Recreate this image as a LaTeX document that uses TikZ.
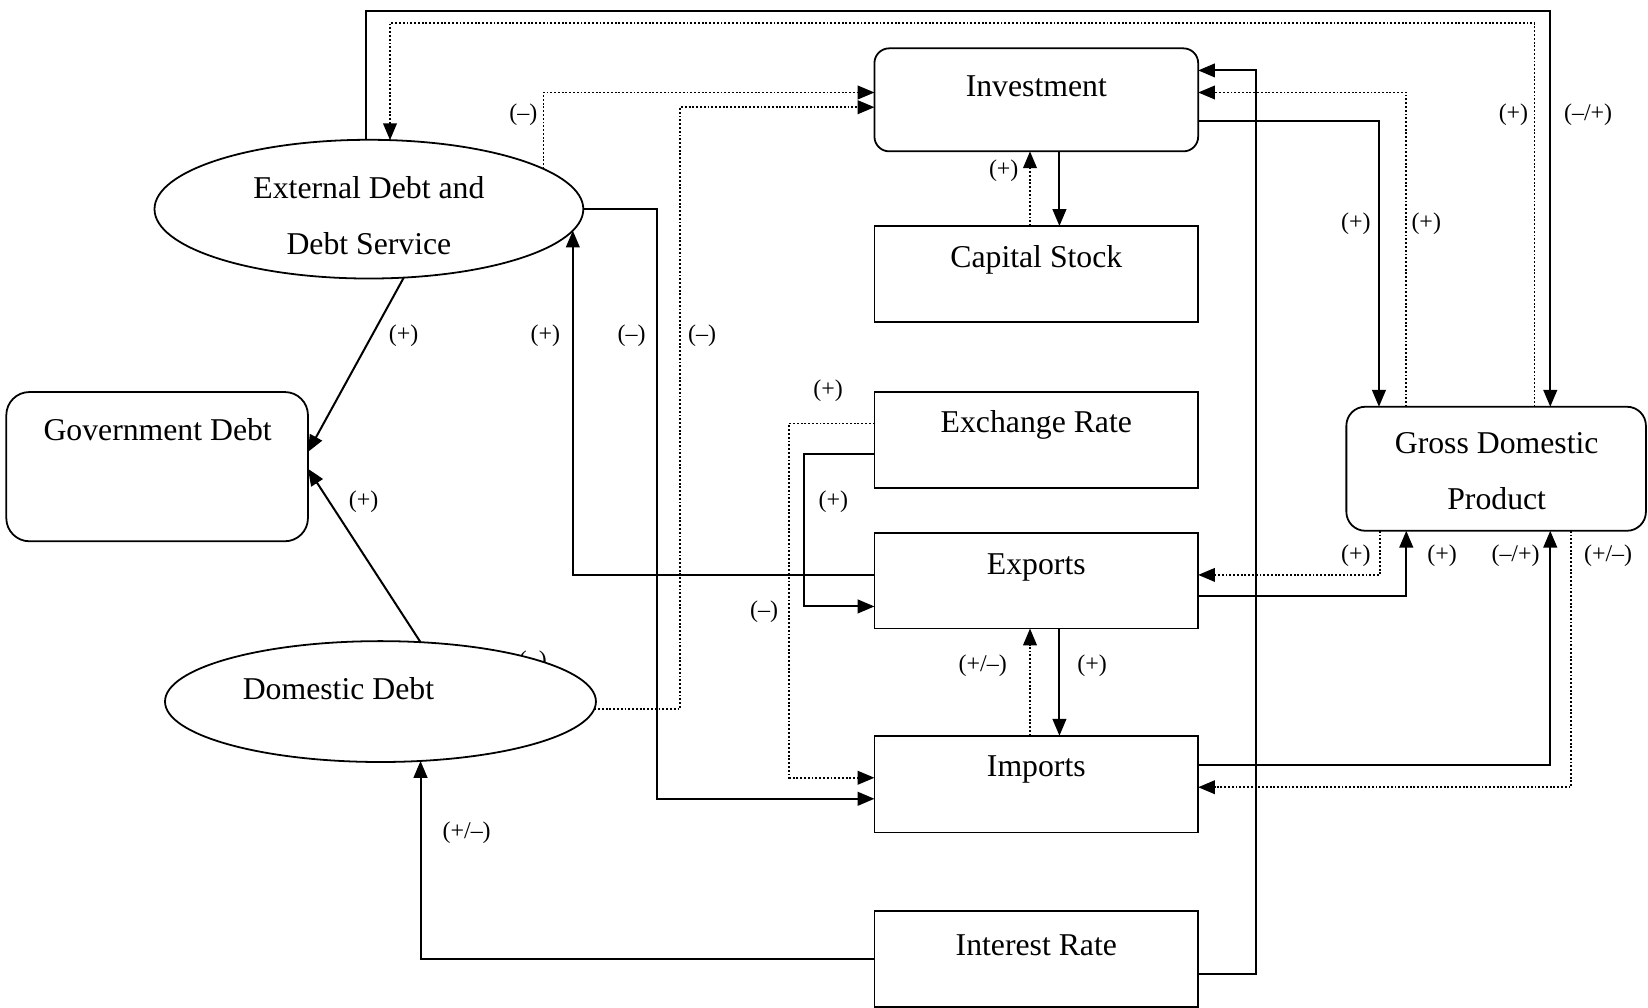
\documentclass[tikz,border=0pt]{standalone}
\usepackage{fontspec}
\setmainfont{Liberation Serif}
\usetikzlibrary{arrows.meta,shapes.geometric,calc}
\begin{document}
\begin{tikzpicture}[x=0.5pt,y=-0.5pt,
  boxn/.style={draw,line width=0.85pt,inner sep=0,outer sep=0,minimum width=154pt,minimum height=45.5pt},
  rbox/.style={boxn,rounded corners=7pt},
  ell/.style={draw,ellipse,line width=0.85pt,inner sep=0,outer sep=0,fill=white},
  txt/.style={font=\fontsize{15.1}{26.5}\selectfont,align=center,inner sep=0},
  lab/.style={font=\fontsize{11.4}{13}\selectfont,inner sep=0},
  sol/.style={line width=0.95pt},
  dotl/.style={line width=0.85pt,dash pattern=on 0.9pt off 0.9pt},
  tip/.style={-{Triangle[length=8pt,width=6.5pt]}},
]
\useasboundingbox (0,0) rectangle (1568,959);

% boxes
\node[rbox, minimum height=49pt] (inv) at (986,95) {};
\node[boxn] (cap) at (986,260.5) {};
\node[boxn] (exr) at (986,418.5) {};
\node[boxn] (exp) at (986,552.5) {};
\node[boxn, minimum height=46pt] (imp) at (986,746) {};
\node[boxn] (int) at (986,912.5) {};
\node[rbox, minimum width=142.5pt, minimum height=59pt, rounded corners=9pt] (gdp) at (1423.5,446) {};
\node[rbox, minimum width=143.5pt, minimum height=71pt, rounded corners=11pt] (gov) at (149.5,444) {};
\node[lab] (hid) at (507,630) {(–)};
\node[ell, minimum width=204pt, minimum height=66pt] (ext) at (351,199) {};
\node[ell, minimum width=205pt, minimum height=57.5pt] (dom) at (362,667.5) {};

% texts
\node[txt] (tinv) at (986,82) {Investment};
\node[txt] (tcap) at (986,247.5) {Capital Stock};
\node[txt] (texr) at (986,404.5) {Exchange Rate};
\node[txt] (texp) at (986,539.5) {Exports};
\node[txt] (timp) at (986,732.5) {Imports};
\node[txt] (tint) at (986,899) {Interest Rate};
\node[txt] (tgdp) at (1424,448) {Gross Domestic\\Product};
\node[txt] (tgov) at (150,409) {Government Debt};
\node[txt] (text) at (351,205) {External Debt and\\Debt Service};
\node[txt] (tdom) at (322,655) {Domestic Debt};

% connectors
\coordinate (c1) at (1475,10);
\draw[sol,tip] (ext.92.6) |- (c1) -- (gdp.north -| c1);
\coordinate (c2) at (1460,22);
\draw[dotl,tip] (gdp.north -| c2) -- (c2) -| (ext.73.1);
\coordinate (c3) at (517,88);
\draw[dotl,tip] (ext.13) |- (inv.west |- c3);
\coordinate (c4) at (647,102);
\draw[dotl,tip] (dom.-2.1) -| (c4) -- (inv.west |- c4);
\coordinate (c5) at (625,760);
\draw[sol,tip] (ext.east) -| (c5) -- (imp.west |- c5);
\coordinate (c6) at (544,547);
\draw[sol,tip] (exp.west |- c6) -| (ext.-6.3);
\draw[sol,tip] (ext.-63.9) -- ([yshift=7pt]gov.east);
\draw[sol,tip] (dom.56.1) -- ([yshift=-1pt]gov.east);
\draw[sol,tip] (int.west) -| (dom.-56.1);
\coordinate (c10) at (1195,927);
\coordinate (c10b) at (1195,67);
\draw[sol,tip] (int.east |- c10) -- (c10) -- (c10b) -- (inv.east |- c10b);
\coordinate (c11) at (1338,88);
\draw[dotl,tip] (gdp.north -| c11) -- (c11) -- (inv.east |- c11);
\coordinate (c12) at (1312,115);
\draw[sol,tip] (inv.east |- c12) -- (c12) -- (gdp.north -| c12);
\draw[sol,tip] ([xshift=11pt]inv.south) -- ([xshift=11pt]cap.north);
\draw[dotl,tip] ([xshift=-3pt]cap.north) -- ([xshift=-3pt]inv.south);
\coordinate (c15) at (751,403);
\coordinate (c15b) at (751,740);
\draw[dotl,tip] (exr.west |- c15) -- (c15) -- (c15b) -- (imp.west |- c15b);
\coordinate (c16) at (765,432);
\coordinate (c16b) at (765,577);
\draw[sol,tip] (exr.west |- c16) -- (c16) -- (c16b) -- (exp.west |- c16b);
\draw[sol,tip] ([xshift=11pt]exp.south) -- ([xshift=11pt]imp.north);
\draw[dotl,tip] ([xshift=-3pt]imp.north) -- ([xshift=-3pt]exp.south);
\coordinate (c19) at (1313,547);
\draw[dotl,tip] (gdp.south -| c19) -- (c19) -- (exp.east |- c19);
\coordinate (c20) at (1338,567);
\draw[sol,tip] (exp.east |- c20) -- (c20) -- (gdp.south -| c20);
\coordinate (c21) at (1475,728);
\draw[sol,tip] (imp.east |- c21) -- (c21) -- (gdp.south -| c21);
\coordinate (c22) at (1495,749);
\draw[dotl,tip] (gdp.south -| c22) -- (c22) -- (imp.east |- c22);

% labels
\node[lab] (l1) at (1511,109) {(–/+)};
\node[lab] (l2) at (1440,109) {(+)};
\node[lab] (l3) at (498,109) {(–)};
\node[lab] (l4) at (955,162) {(+)};
\node[lab] (l5) at (1290,213) {(+)};
\node[lab] (l6) at (1357,213) {(+)};
\node[lab] (l7) at (384,319) {(+)};
\node[lab] (l8) at (519,319) {(+)};
\node[lab] (l9) at (601,319) {(–)};
\node[lab] (l10) at (668,319) {(–)};
\node[lab] (l11) at (788,372) {(+)};
\node[lab] (l12) at (346,477) {(+)};
\node[lab] (l13) at (793,477) {(+)};
\node[lab] (l14) at (1290,529) {(+)};
\node[lab] (l15) at (1372,529) {(+)};
\node[lab] (l16) at (1442,529) {(–/+)};
\node[lab] (l17) at (1530,529) {(+/–)};
\node[lab] (l18) at (727,582) {(–)};
\node[lab] (l19) at (935,633) {(+/–)};
\node[lab] (l20) at (1039,633) {(+)};
\node[lab] (l21) at (444,792) {(+/–)};
\end{tikzpicture}
\end{document}
